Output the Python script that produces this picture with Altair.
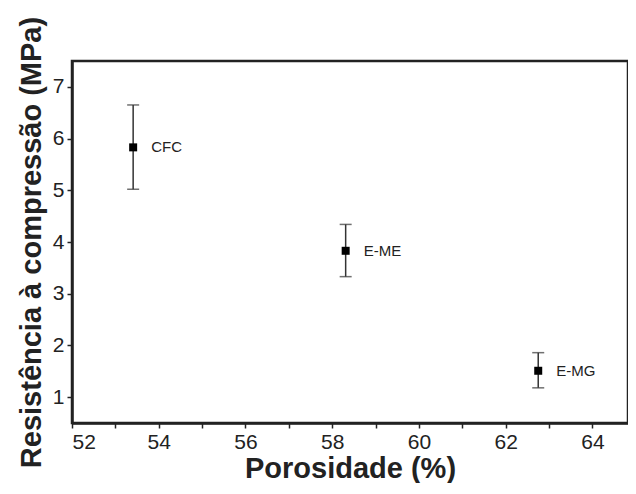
import altair as alt
import pandas as pd

samples = ["CFC", "E-ME", "E-MG"]
porosity = [53.41, 58.31, 62.75]
strength = [5.83, 3.83, 1.51]
err_low = [5.02, 3.33, 1.18]
err_high = [6.65, 4.34, 1.86]

x_ticks = [52, 53, 54, 55, 56, 57, 58, 59, 60, 61, 62, 63, 64]
y_ticks = [1, 2, 3, 4, 5, 6, 7]

df = pd.DataFrame({
    "sample": samples,
    "porosity": porosity,
    "strength": strength,
    "lo": err_low,
    "hi": err_high,
})

FONT = "Liberation Sans"
INK = "#222222"

x = alt.X(
    "porosity:Q",
    scale=alt.Scale(domain=[52, 64.82], nice=False, zero=False),
    axis=alt.Axis(
        title="Porosidade (%)",
        values=x_ticks,
        format="d",
        labelExpr="datum.value % 2 == 0 ? datum.label : ''",
        labelOverlap=False,
        grid=False,
    ),
)
yaxis = alt.Axis(
    title="Resistência à compressão (MPa)",
    values=y_ticks,
    format="d",
    grid=False,
)
yscale = alt.Scale(domain=[0.5, 7.5], nice=False, zero=False)

base = alt.Chart(df)

bars = base.mark_rule(color="#333333", strokeWidth=1.5).encode(
    x=x, y=alt.Y("lo:Q", scale=yscale, axis=yaxis), y2="hi:Q"
)
caps_lo = base.mark_tick(color="#333333", thickness=1.5, size=12, orient="horizontal").encode(
    x="porosity:Q", y="lo:Q"
)
caps_hi = base.mark_tick(color="#333333", thickness=1.5, size=12, orient="horizontal").encode(
    x="porosity:Q", y="hi:Q"
)
points = base.mark_square(color="#000000", opacity=1, size=64).encode(x="porosity:Q", y="strength:Q")
labels = base.mark_text(
    align="left", baseline="middle", dx=18, font=FONT, fontSize=15, color=INK
).encode(x="porosity:Q", y="strength:Q", text="sample:N")

chart = (
    alt.layer(bars, caps_lo, caps_hi, points, labels)
    .properties(
        width=556,
        height=362,
        padding={"left": 64, "top": 53, "right": 0, "bottom": 60},
        autosize=alt.AutoSizeParams(type="none"),
    )
    .configure_view(stroke=INK, strokeWidth=2.5)
    .configure_axis(
        domainColor=INK,
        domainWidth=2.5,
        tickColor=INK,
        tickWidth=1.5,
        tickSize=5,
        labelFont=FONT,
        labelFontSize=21,
        labelColor=INK,
        labelPadding=3,
        titleFont=FONT,
        titleFontSize=29,
        titleFontWeight="bold",
        titleColor=INK,
    )
    .configure_axisX(titlePadding=2)
    .configure_axisY(titlePadding=6)
)

chart.save("out.html", embed_options={"renderer": "svg", "actions": False})
